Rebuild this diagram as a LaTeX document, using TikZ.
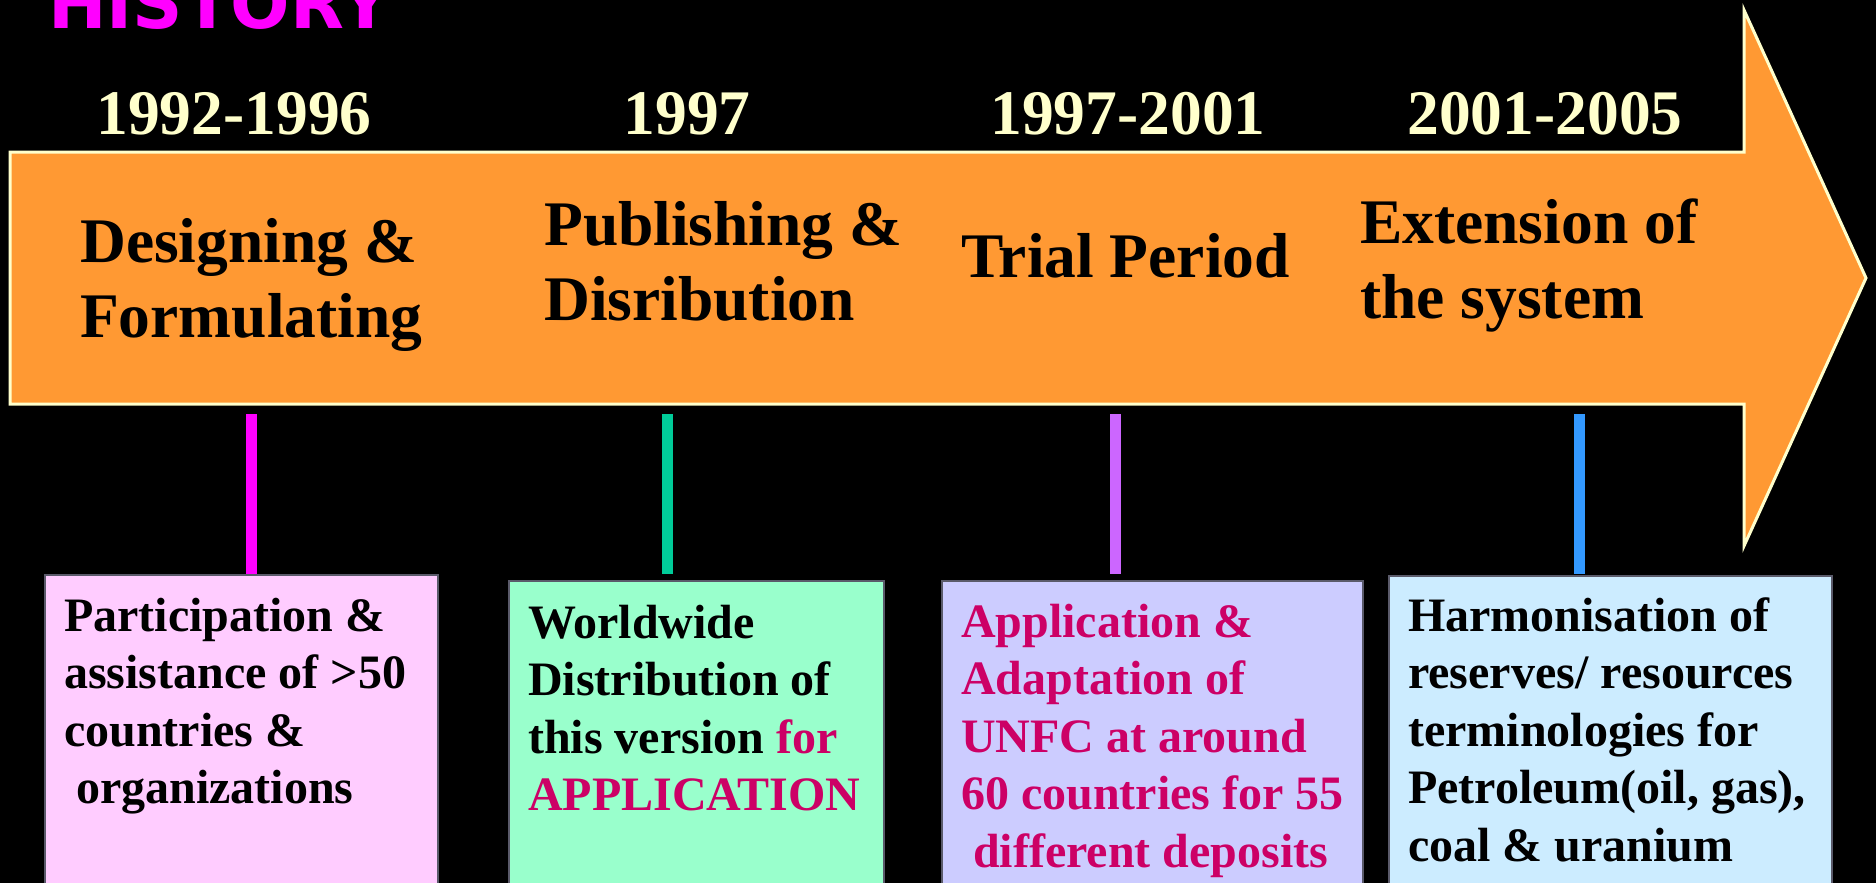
\documentclass[tikz,border=0pt]{standalone}
\usepackage{fontspec}
\setmainfont{Liberation Serif}
\newfontfamily\histfont{DejaVu Sans}
\usetikzlibrary{positioning}

\definecolor{arroworange}{HTML}{FF9933}
\definecolor{rimyellow}{HTML}{FFFFCC}
\definecolor{histmagenta}{HTML}{FF00FF}
\definecolor{plumred}{HTML}{CC0066}
\definecolor{boxpink}{HTML}{FFCCFF}
\definecolor{boxgreen}{HTML}{99FFCC}
\definecolor{boxlilac}{HTML}{CCCCFF}
\definecolor{boxblue}{HTML}{CCECFF}
\definecolor{stemgreen}{HTML}{00CC99}
\definecolor{stempurple}{HTML}{CC66FF}
\definecolor{stemblue}{HTML}{3399FF}
\definecolor{boxrim}{HTML}{5A5A6A}

\newcommand{\plainspaces}{\spaceskip=0pt\xspaceskip=0pt\relax}

\begin{document}
\begin{tikzpicture}
	[x=1pt,y=-1pt,
	year node/.style={anchor=base,inner sep=0,text=rimyellow,font=\bfseries\fontsize{63.5}{76}\selectfont},
	phase node/.style={anchor=base west,inner sep=0,text width=380pt,align=left,execute at begin node=\plainspaces,font=\bfseries\fontsize{63.5}{75}\selectfont},
	info box/.style={anchor=north west,inner sep=0,draw=boxrim,line width=1.5pt},
	info text/.style={anchor=base west,inner sep=0,text width=420pt,align=left,execute at begin node=\plainspaces,font=\bfseries\fontsize{48}{57.5}\selectfont},
	stem/.style={line width=11pt}]
	\useasboundingbox (0,0) rectangle (1876,883);
	\clip (0,0) rectangle (1876,883);
	\fill[black] (0,0) rectangle (1876,883);
	
	\node [anchor=base west,inner sep=0,text=histmagenta,font=\histfont\bfseries\fontsize{70}{82}\selectfont] (title) at (48,29) {HISTORY};
	
	\draw[draw=rimyellow,fill=arroworange,line width=3pt]
	(10,152) -- (1744,152) -- (1744,10) -- (1866,278) -- (1744,546) -- (1744,404) -- (10,404) -- cycle;
	
	\node [year node] (y1) at (234,134) {1992-1996};
	\node [year node] (y2) at (687,134) {1997};
	\node [year node] (y3) at (1128,134) {1997-2001};
	\node [year node] (y4) at (1545,134) {2001-2005};
	
	\node [phase node] (p1) at (80,262) {Designing \&\\Formulating};
	\node [phase node] (p2) at (544,245) {Publishing \&\\Disribution};
	\node [phase node] (p3) at (961,277) {Trial Period};
	\node [phase node] (p4) at (1360,243) {Extension of\\the system};
	
	\node [info box,fill=boxpink,minimum width=393pt,minimum height=340pt] (b1) at (44,574) {};
	\node [info box,fill=boxgreen,minimum width=375pt,minimum height=340pt] (b2) at (508,580) {};
	\node [info box,fill=boxlilac,minimum width=421pt,minimum height=340pt] (b3) at (941,580) {};
	\node [info box,fill=boxblue,minimum width=443pt,minimum height=340pt] (b4) at (1388,575) {};
	
	\coordinate (t1) at (251,414);
	\coordinate (t2) at (667,414);
	\coordinate (t3) at (1115,414);
	\coordinate (t4) at (1579,414);
	
	\draw[stem,histmagenta] (t1) -- (t1 |- b1.north);
	\draw[stem,stemgreen] (t2) -- (t2 |- b1.north);
	\draw[stem,stempurple] (t3) -- (t3 |- b1.north);
	\draw[stem,stemblue] (t4) -- (t4 |- b1.north);
	
	\node [info text] (i1) at (64,631) {Participation \&\\assistance of >50\\countries \&\\\hspace*{.25em}organizations};
	\node [info text] (i2) at (528,638) {Worldwide\\Distribution of\\this version {\color{plumred}for}\\{\color{plumred}APPLICATION}};
	\node [info text,text=plumred] (i3) at (961,637) {Application \&\\Adaptation of\\UNFC at around\\60 countries for 55\\\hspace*{.25em}different deposits};
	\node [info text] (i4) at (1408,631) {Harmonisation of\\reserves/ resources\\terminologies for\\Petroleum(oil, gas),\\coal \& uranium};
	
\end{tikzpicture}
\end{document}
